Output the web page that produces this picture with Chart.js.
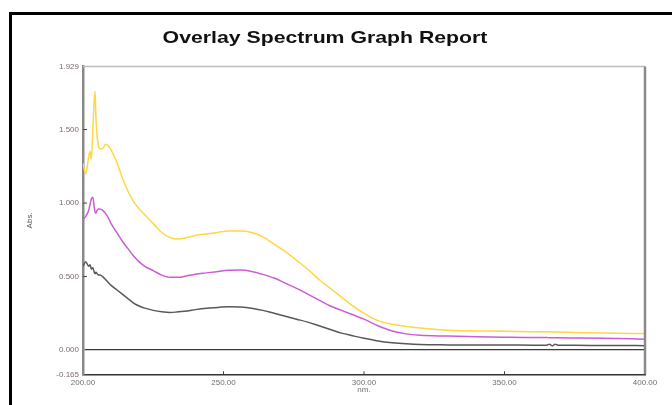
<!DOCTYPE html>
<html>
<head>
<meta charset="utf-8">
<style>
  html, body { margin: 0; padding: 0; background: #fff; }
  #wrap { position: relative; width: 672px; height: 405px; overflow: hidden; }
  #frame { position: absolute; left: 9px; top: 12px; width: 700px; height: 420px;
           border-left: 3px solid #000; border-top: 3px solid #000; box-sizing: border-box; }
  canvas { position: absolute; left: 0; top: 0; }
  #title { position: absolute; left: 325px; top: 29px; white-space: nowrap; color: #111;
           font: bold 17px 'Liberation Sans', Arial, sans-serif; line-height: 17px;
           transform: translateX(-50%) scaleX(1.25); }
</style>
<script src="https://cdn.jsdelivr.net/npm/chart.js@4.4.0/dist/chart.umd.min.js"></script>
</head>
<body>
<div id="wrap">
  <div id="frame"></div>
  <canvas id="spectrum" width="672" height="405"></canvas>
  <div id="title">Overlay Spectrum Graph Report</div>
</div>
<script>
// Wavelength grid (nm) shared by all three spectra
const wavelengths = [
  200, 201, 202, 202.5, 203, 203.5, 204, 204.3, 204.6, 205,
  205.5, 206, 207, 208, 209, 210, 212, 214, 216, 218,
  220, 222, 225, 228, 231, 234, 237, 240, 244, 248,
  252, 256, 260, 264, 268, 272, 276, 280, 284, 288,
  292, 296, 300, 305, 310, 315, 320, 330, 340, 350,
  360, 365, 366, 367, 368, 369, 375, 385, 400
];

// Absorbance, yellow trace
const absYellow = [
  1.27, 1.20, 1.31, 1.35, 1.30, 1.50, 1.70, 1.76, 1.58, 1.46,
  1.39, 1.37, 1.37, 1.40, 1.39, 1.36, 1.28, 1.17, 1.08, 1.01,
  0.96, 0.92, 0.86, 0.80, 0.765, 0.755, 0.765, 0.78, 0.79, 0.80,
  0.81, 0.81, 0.80, 0.77, 0.72, 0.67, 0.61, 0.55, 0.48, 0.42,
  0.36, 0.30, 0.25, 0.20, 0.175, 0.16, 0.15, 0.135, 0.13, 0.128,
  0.125, 0.124, 0.124, 0.123, 0.123, 0.122, 0.12, 0.116, 0.112
];

// Absorbance, magenta trace
const absMagenta = [
  0.89, 0.91, 0.95, 0.99, 1.03, 1.04, 0.97, 0.94, 0.93, 0.95,
  0.96, 0.96, 0.95, 0.93, 0.90, 0.86, 0.80, 0.74, 0.69, 0.64,
  0.60, 0.57, 0.54, 0.51, 0.495, 0.495, 0.505, 0.515, 0.525, 0.535,
  0.543, 0.545, 0.535, 0.515, 0.49, 0.455, 0.42, 0.38, 0.34, 0.30,
  0.27, 0.24, 0.21, 0.165, 0.13, 0.11, 0.10, 0.095, 0.09, 0.087,
  0.085, 0.085, 0.084, 0.084, 0.083, 0.083, 0.082, 0.08, 0.074
];

// Absorbance, gray trace
const absGray = [
  0.57, 0.60, 0.57, 0.58, 0.55, 0.56, 0.53, 0.52, 0.53, 0.52,
  0.51, 0.51, 0.50, 0.48, 0.46, 0.44, 0.41, 0.38, 0.35, 0.32,
  0.30, 0.285, 0.27, 0.26, 0.255, 0.26, 0.265, 0.275, 0.285, 0.29,
  0.295, 0.293, 0.285, 0.27, 0.25, 0.23, 0.21, 0.19, 0.165, 0.14,
  0.115, 0.097, 0.08, 0.062, 0.05, 0.042, 0.037, 0.035, 0.034, 0.034,
  0.033, 0.033, 0.04, 0.028, 0.04, 0.033, 0.032, 0.031, 0.03
];

// Axis tick values
const absTicks = [-0.165, 0.0, 0.5, 1.0, 1.5, 1.929];
const nmTicks = [200, 250, 300, 350, 400];

const FONT = "'Liberation Sans', Arial, sans-serif";

const toPoints = (ys) => wavelengths.map((x, i) => ({ x, y: ys[i] }));

// Top/right edges of the plot box plus small inward tick marks
const plotFrame = {
  id: 'plotFrame',
  afterDraw(chart) {
    const { ctx, chartArea: a, scales } = chart;
    ctx.save();
    ctx.strokeStyle = '#bdbdbd';
    ctx.lineWidth = 1.5;
    ctx.beginPath();
    ctx.moveTo(a.left, a.top);
    ctx.lineTo(a.right, a.top);
    ctx.stroke();

    ctx.strokeStyle = '#8a8a8a';
    ctx.lineWidth = 2.5;
    ctx.beginPath();
    ctx.moveTo(a.right, a.top);
    ctx.lineTo(a.right, a.bottom);
    ctx.stroke();

    ctx.strokeStyle = '#444';
    ctx.lineWidth = 1;
    ctx.beginPath();
    scales.y.ticks.forEach(t => {
      if (t.value === absTicks[0] || t.value === absTicks[absTicks.length - 1] || t.value === 0) return;
      const py = scales.y.getPixelForValue(t.value);
      ctx.moveTo(a.left, py);
      ctx.lineTo(a.left + 4, py);
    });
    scales.x.ticks.forEach(t => {
      if (t.value === nmTicks[0] || t.value === nmTicks[nmTicks.length - 1]) return;
      const px = scales.x.getPixelForValue(t.value);
      ctx.moveTo(px, a.bottom);
      ctx.lineTo(px, a.bottom - 3);
    });
    ctx.stroke();
    ctx.restore();
  }
};

const lineStyle = (color) => ({
  borderColor: color,
  backgroundColor: color,
  borderWidth: 1.5,
  pointRadius: 0,
  fill: false,
  cubicInterpolationMode: 'monotone'
});

new Chart(document.getElementById('spectrum'), {
  type: 'line',
  data: {
    datasets: [
      { label: 'Sample 3', data: toPoints(absGray), ...lineStyle('rgb(88,88,88)') },
      { label: 'Sample 2', data: toPoints(absMagenta), ...lineStyle('rgb(204,92,212)') },
      { label: 'Sample 1', data: toPoints(absYellow), ...lineStyle('rgb(255,214,70)') }
    ]
  },
  options: {
    responsive: false,
    animation: false,
    devicePixelRatio: 1,
    layout: { padding: { top: 66.5, right: 27, bottom: 0, left: 0 } },
    plugins: {
      legend: { display: false },
      tooltip: { enabled: false },
      title: { display: false }
    },
    scales: {
      x: {
        type: 'linear',
        min: 200,
        max: 400,
        afterBuildTicks: (s) => { s.ticks = nmTicks.map(v => ({ value: v })); },
        afterFit: (s) => { s.height = 30.7; },
        grid: { display: true, drawTicks: false, color: 'rgba(0,0,0,0)' },
        border: { display: true, color: '#333', width: 1.5 },
        ticks: {
          autoSkip: false,
          maxRotation: 0,
          padding: 4,
          color: '#6f6f6f',
          font: { family: FONT, size: 8 },
          callback: (v) => Number(v).toFixed(2)
        },
        title: {
          display: true,
          text: 'nm.',
          color: '#6f6f6f',
          font: { family: FONT, size: 8 },
          padding: { top: 0, bottom: 10 }
        }
      },
      y: {
        min: absTicks[0],
        max: absTicks[absTicks.length - 1],
        afterBuildTicks: (s) => { s.ticks = absTicks.map(v => ({ value: v })); },
        afterFit: (s) => { s.width = 83; },
        grid: {
          display: true,
          drawTicks: false,
          color: (c) => (c.tick && c.tick.value === 0 ? '#3a3a3a' : 'rgba(0,0,0,0)'),
          lineWidth: 1.3
        },
        border: { display: true, color: '#8a8a8a', width: 2.5 },
        ticks: {
          autoSkip: false,
          padding: 4,
          color: '#7d6a6a',
          font: { family: FONT, size: 8 },
          callback: (v) => Number(v).toFixed(3)
        },
        title: {
          display: true,
          text: 'Abs.',
          color: '#555',
          font: { family: FONT, size: 8 },
          padding: { top: 25, bottom: 0 }
        }
      }
    }
  },
  plugins: [plotFrame]
});
</script>
</body>
</html>
